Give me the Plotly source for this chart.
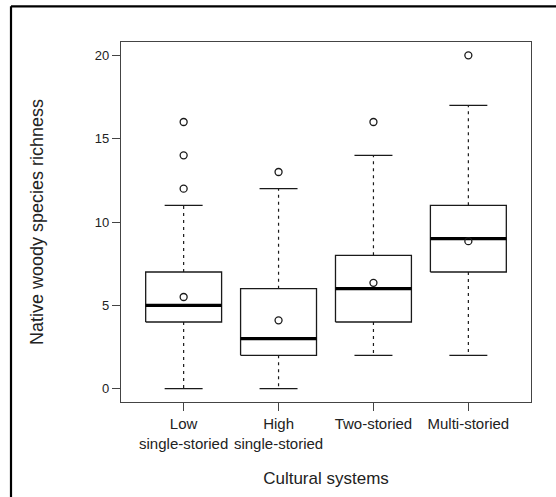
import plotly.graph_objects as go

# ---- data ----
categories = ["Low<br>single-storied", "High<br>single-storied", "Two-storied", "Multi-storied"]
lower_whisker = [0, 0, 2, 2]
q1 = [4, 2, 4, 7]
median = [5, 3, 6, 9]
q3 = [7, 6, 8, 11]
upper_whisker = [11, 12, 14, 17]
outliers = [[12, 14, 16], [13], [16], [20]]
means = [5.5, 4.1, 6.35, 8.85]
y_ticks = [0, 5, 10, 15, 20]

# ---- style ----
BOX_HALF = 0.4
STAPLE_HALF = 0.2
INK = "#1a1a1a"

xs = list(range(1, len(categories) + 1))

box_x, box_y = [], []
med_x, med_y = [], []
wh_x, wh_y = [], []
st_x, st_y = [], []
out_x, out_y = [], []
for i, x in enumerate(xs):
    box_x += [x - BOX_HALF, x + BOX_HALF, x + BOX_HALF, x - BOX_HALF, x - BOX_HALF, None]
    box_y += [q1[i], q1[i], q3[i], q3[i], q1[i], None]
    med_x += [x - BOX_HALF, x + BOX_HALF, None]
    med_y += [median[i], median[i], None]
    wh_x += [x, x, None, x, x, None]
    wh_y += [q3[i], upper_whisker[i], None, q1[i], lower_whisker[i], None]
    st_x += [x - STAPLE_HALF, x + STAPLE_HALF, None, x - STAPLE_HALF, x + STAPLE_HALF, None]
    st_y += [upper_whisker[i], upper_whisker[i], None, lower_whisker[i], lower_whisker[i], None]
    for o in outliers[i]:
        out_x.append(x)
        out_y.append(o)

fig = go.Figure()
fig.add_trace(go.Scatter(x=wh_x, y=wh_y, mode="lines",
                         line=dict(color=INK, width=1.2, dash="3px,4px"), hoverinfo="skip"))
fig.add_trace(go.Scatter(x=st_x, y=st_y, mode="lines",
                         line=dict(color=INK, width=1.3), hoverinfo="skip"))
fig.add_trace(go.Scatter(x=box_x, y=box_y, mode="lines", fill="toself", fillcolor="white",
                         line=dict(color=INK, width=1.3), hoverinfo="skip"))
fig.add_trace(go.Scatter(x=med_x, y=med_y, mode="lines",
                         line=dict(color="#000000", width=3.2), hoverinfo="skip"))
fig.add_trace(go.Scatter(x=out_x, y=out_y, mode="markers",
                         marker=dict(symbol="circle-open", size=7, color=INK, line=dict(width=1.3))))
fig.add_trace(go.Scatter(x=xs, y=means, mode="markers",
                         marker=dict(symbol="circle-open", size=7, color=INK, line=dict(width=1.3))))

L, R, T, B = 121, 25, 42, 95
W, H = 556, 497
pw, ph = W - L - R, H - T - B

def px_x(p):
    return (p - L) / pw

def px_y(p):
    return (H - B - p) / ph

# outer frame (top and left edges visible)
fig.add_shape(type="line", xref="paper", yref="paper",
              x0=px_x(11), x1=px_x(560), y0=px_y(6.3), y1=px_y(6.3),
              line=dict(color="black", width=2.2))
fig.add_shape(type="line", xref="paper", yref="paper",
              x0=px_x(11), x1=px_x(11), y0=px_y(6.3), y1=px_y(500),
              line=dict(color="black", width=2.2))

fig.update_layout(
    width=W, height=H,
    margin=dict(l=L, r=R, t=T, b=B),
    paper_bgcolor="white", plot_bgcolor="white",
    showlegend=False,
    font=dict(family="Liberation Sans, Arial, sans-serif", color="#222"),
)
fig.update_xaxes(
    range=[0.34, 4.66], tickvals=xs, ticktext=categories,
    showgrid=False, zeroline=False,
    showline=True, linecolor="#444", linewidth=1.2, mirror=True,
    ticks="outside", ticklen=8, tickcolor="#444", tickwidth=1.2,
    tickfont=dict(size=15, color="#222"),
    title=dict(text="Cultural systems", font=dict(size=17, color="#222"), standoff=21),
    automargin=False,
)
fig.update_yaxes(
    range=[-0.8, 20.8], tickvals=y_ticks, ticktext=[str(v) for v in y_ticks],
    showgrid=False, zeroline=False,
    showline=True, linecolor="#444", linewidth=1.2, mirror=True,
    ticks="outside", ticklen=8, tickcolor="#444", tickwidth=1.2,
    tickfont=dict(size=13, color="#222"),
    title=dict(text="Native woody species richness", font=dict(size=18, color="#222"), standoff=46),
    automargin=False,
)

fig.write_html("out.html")
